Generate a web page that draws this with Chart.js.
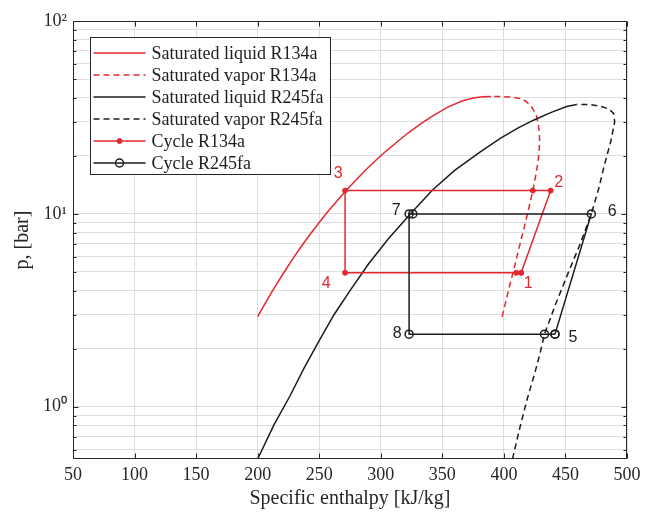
<!DOCTYPE html>
<html><head><meta charset="utf-8">
<style>html,body{margin:0;padding:0;background:#fff;}canvas{display:block;}</style>
<script src="https://cdn.jsdelivr.net/npm/chart.js@4/dist/chart.umd.min.js"></script>
</head><body>
<canvas id="c" width="648" height="517" style="width:648px;height:517px"></canvas>
<script>
// ---------------- data ----------------
const r134aLiqH = [200, 206.8, 213.6, 220.5, 227.5, 234.5, 241.7, 249, 256.4, 264, 271.6, 279.5, 287.5, 295.8, 304.3, 313.2, 322.4, 332.3, 342.9, 354.8, 366, 375, 383, 389.6];
const r134aLiqP = [2.93, 3.5, 4.15, 4.88, 5.72, 6.65, 7.70, 8.87, 10.17, 11.6, 13.18, 14.9, 16.82, 18.9, 21.17, 23.6, 26.33, 29.3, 32.44, 35.9, 38.5, 39.9, 40.5, 40.6];
const r134aVapH = [398.6, 401.5, 404.3, 407.1, 409.8, 412.3, 414.8, 417.2, 419.4, 421.5, 423.4, 425.1, 426.6, 427.8, 428.6, 429.0, 428.8, 427.9, 426.3, 422.5, 418, 413, 405, 397, 389.6];
const r134aVapP = [2.93, 3.5, 4.15, 4.88, 5.72, 6.65, 7.70, 8.87, 10.17, 11.6, 13.18, 14.9, 16.82, 18.9, 21.17, 23.6, 26.33, 29.3, 32.44, 35.9, 38.3, 39.7, 40.4, 40.6, 40.6];
const r245LiqH = [200, 213, 226, 238, 250, 262, 275, 290, 306, 324, 342, 360, 380, 397, 412, 424, 438, 451, 459];
const r245LiqP = [0.536, 0.80, 1.13, 1.6, 2.2, 3.0, 4.0, 5.5, 7.4, 10.0, 13.3, 16.8, 20.8, 24.6, 28.0, 30.6, 33.5, 36.0, 36.9];
const r245VapH = [407, 413, 419, 424.5, 429, 433, 442, 452, 462, 471, 477, 482, 487, 490, 489, 485, 480, 470, 459];
const r245VapP = [0.536, 0.78, 1.1, 1.45, 1.85, 2.38, 3.4, 4.9, 7.0, 10.0, 13.5, 18.3, 24, 30, 33.3, 35, 35.9, 36.9, 36.9];
const cycle134H = [414, 438, 423.5, 271, 271, 410, 414];
const cycle134P = [4.95, 13.2, 13.2, 13.2, 4.95, 4.95, 4.95];
const cycle245H = [441.5, 471, 326, 323, 323, 433, 441.5];
const cycle245P = [2.38, 10, 10, 10, 2.38, 2.38, 2.38];
const stateLabels134 = ['1', '2', '3', '4'];
const stateIdx134 = [0, 1, 3, 4];
const stateLabels245 = ['5', '6', '7', '8'];
const stateIdx245 = [0, 1, 3, 4];
const xTickValues = [50, 100, 150, 200, 250, 300, 350, 400, 450, 500];
const yTickValues = [0.6, 0.7, 0.8, 0.9, 1, 2, 3, 4, 5, 6, 7, 8, 9, 10, 20, 30, 40, 50, 60, 70, 80, 90, 100];
const yTickLabels = {1: '10\u2070', 10: '10\u00b9', 100: '10\u00b2'};
const seriesNames = ['Saturated liquid R134a', 'Saturated vapor R134a', 'Saturated liquid R245fa', 'Saturated vapor R245fa', 'Cycle R134a', 'Cycle R245fa'];

// ---------------- helpers ----------------
const pts = (H, P) => H.map((h, i) => ({x: h, y: P[i]}));
const RED = 'rgb(228,40,48)';
const BLK = 'rgb(28,28,28)';
const AX = 'rgb(38,38,38)';
const SERIF = "'Liberation Serif', 'Times New Roman', serif";
const SANS = "'Liberation Sans', Arial, sans-serif";

const curve = (label, data, color, dash) => ({
  label, data, borderColor: color, backgroundColor: color, borderWidth: 1.5,
  borderDash: dash, showLine: true, pointRadius: 0, pointHoverRadius: 0, tension: 0, fill: false
});

const datasets = [
  curve(seriesNames[0], pts(r134aLiqH, r134aLiqP), RED, []),
  curve(seriesNames[1], pts(r134aVapH, r134aVapP), RED, [6, 4]),
  curve(seriesNames[2], pts(r245LiqH, r245LiqP), BLK, []),
  curve(seriesNames[3], pts(r245VapH, r245VapP), BLK, [6, 4]),
  Object.assign(curve(seriesNames[4], pts(cycle134H, cycle134P), RED, []), {
    pointRadius: 2.5, pointStyle: 'circle', pointBackgroundColor: RED, pointBorderColor: RED, pointBorderWidth: 1}),
  Object.assign(curve(seriesNames[5], pts(cycle245H, cycle245P), BLK, []), {
    pointRadius: 4, pointStyle: 'circle', pointBackgroundColor: 'rgba(0,0,0,0)', pointBorderColor: BLK, pointBorderWidth: 1.5})
];
datasets.forEach((d, i) => d.order = 10 - i);

// ---------------- plugins ----------------
const frame = {
  id: 'frame',
  afterDatasetsDraw(chart) {
    const {ctx, chartArea: a, scales: {x, y}} = chart;
    ctx.save();
    ctx.strokeStyle = AX; ctx.lineWidth = 1;
    const L = Math.round(a.left) + 0.5, R = Math.round(a.right) - 0.5, T = Math.round(a.top) + 0.5, B = Math.round(a.bottom) - 0.5;
    ctx.beginPath();
    xTickValues.forEach(v => {
      const px = Math.round(x.getPixelForValue(v)) + 0.5;
      ctx.moveTo(px, B); ctx.lineTo(px, B - 5);
      ctx.moveTo(px, T); ctx.lineTo(px, T + 5);
    });
    yTickValues.forEach(v => {
      const py = Math.round(y.getPixelForValue(v)) + 0.5;
      const len = yTickLabels[v] ? 5 : 3;
      ctx.moveTo(L, py); ctx.lineTo(L + len, py);
      ctx.moveTo(R, py); ctx.lineTo(R - len, py);
    });
    ctx.stroke();
    ctx.strokeRect(L, T, R - L, B - T);
    ctx.restore();
  }
};

const stateText = {
  id: 'stateText',
  afterDatasetsDraw(chart) {
    const {ctx, scales: {x, y}} = chart;
    const off134 = [[7, 11], [8, -8], [-7, -17], [-19, 11]];
    const off245 = [[18, 3], [21, -2], [-13, -3], [-12, -1]];
    ctx.save();
    ctx.font = '16px ' + SANS;
    ctx.textAlign = 'center'; ctx.textBaseline = 'middle';
    stateLabels134.forEach((t, k) => {
      const i = stateIdx134[k];
      ctx.fillStyle = RED;
      ctx.fillText(t, x.getPixelForValue(cycle134H[i]) + off134[k][0], y.getPixelForValue(cycle134P[i]) + off134[k][1]);
    });
    stateLabels245.forEach((t, k) => {
      const i = stateIdx245[k];
      ctx.fillStyle = BLK;
      ctx.fillText(t, x.getPixelForValue(cycle245H[i]) + off245[k][0], y.getPixelForValue(cycle245P[i]) + off245[k][1]);
    });
    ctx.restore();
  }
};

const boxLegend = {
  id: 'boxLegend',
  afterDraw(chart) {
    const {ctx, chartArea: a} = chart;
    const bx = a.left + 16.5, by = a.top + 16, bw = 240, bh = 137;
    ctx.save();
    ctx.fillStyle = '#fff';
    ctx.fillRect(bx, by, bw, bh);
    ctx.strokeStyle = AX; ctx.lineWidth = 1;
    ctx.strokeRect(Math.round(bx) + 0.5, Math.round(by) + 0.5, bw, bh);
    ctx.font = '18px ' + SERIF;
    ctx.textBaseline = 'middle'; ctx.textAlign = 'left';
    chart.data.datasets.forEach((d, i) => {
      const cy = by + 16 + i * 22;
      const x0 = bx + 4, x1 = bx + 56;
      ctx.strokeStyle = d.borderColor; ctx.lineWidth = d.borderWidth;
      ctx.setLineDash(d.borderDash || []);
      ctx.beginPath(); ctx.moveTo(x0, cy); ctx.lineTo(x1, cy); ctx.stroke();
      ctx.setLineDash([]);
      if (d.pointRadius > 0) {
        ctx.beginPath();
        ctx.arc((x0 + x1) / 2, cy, d.pointRadius, 0, Math.PI * 2);
        ctx.fillStyle = d.pointBackgroundColor; ctx.fill();
        ctx.strokeStyle = d.pointBorderColor; ctx.lineWidth = d.pointBorderWidth; ctx.stroke();
      }
      ctx.fillStyle = 'rgb(30,30,30)';
      ctx.fillText(d.label, bx + 62, cy + 1);
    });
    ctx.restore();
  }
};

// ---------------- chart ----------------
new Chart(document.getElementById('c'), {
  type: 'scatter',
  data: {datasets},
  plugins: [frame, stateText, boxLegend],
  options: {
    responsive: false, animation: false, devicePixelRatio: 1,
    layout: {padding: {left: 0, right: 21, top: 21, bottom: 0}},
    plugins: {legend: {display: false}, tooltip: {enabled: false}},
    scales: {
      x: {
        type: 'linear', min: 50, max: 500,
        afterBuildTicks: s => { s.ticks = xTickValues.map(v => ({value: v})); },
        afterFit: s => { s.height = 58; },
        ticks: {autoSkip: false, maxRotation: 0, padding: 5, color: AX, font: {family: SERIF, size: 18}},
        grid: {color: '#dedede', drawTicks: false, lineWidth: 1},
        border: {display: false},
        title: {display: true, text: 'Specific enthalpy [kJ/kg]', color: AX, font: {family: SERIF, size: 20}, padding: {top: 0, bottom: 6}}
      },
      y: {
        type: 'logarithmic', min: 0.536, max: 100,
        afterBuildTicks: s => { s.ticks = yTickValues.map(v => ({value: v, major: !!yTickLabels[v]})); },
        afterFit: s => { s.width = 73; },
        ticks: {autoSkip: false, padding: 6, color: AX, font: {family: SERIF, size: 18},
          callback: v => yTickLabels[v] || ''},
        grid: {color: '#dedede', drawTicks: false, lineWidth: 1},
        border: {display: false},
        title: {display: true, text: 'p, [bar]', color: AX, font: {family: SERIF, size: 20}, padding: {top: 11, bottom: 0}}
      }
    }
  }
});
</script>
</body></html>
